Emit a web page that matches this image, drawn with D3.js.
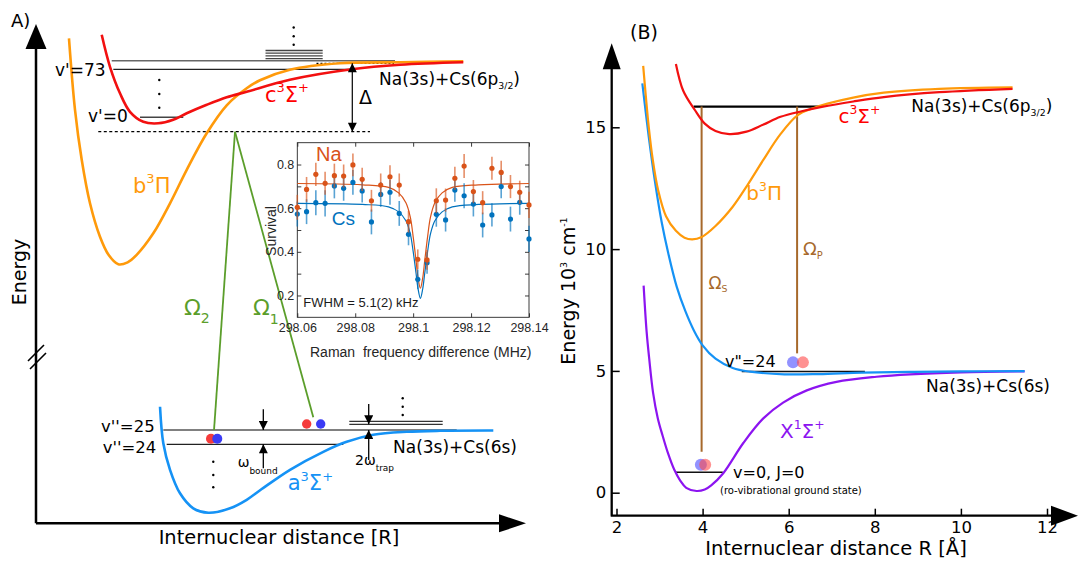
<!DOCTYPE html>
<html>
<head>
<meta charset="utf-8">
<script src="https://cdn.jsdelivr.net/npm/d3@7"></script>
<style>
  html, body { margin: 0; padding: 0; background: #fff; }
  svg { display: block; font-family: "DejaVu Sans", sans-serif; }
  text { white-space: pre; }
  .mat text, text.mat { font-family: "Liberation Sans", Arial, sans-serif; }
</style>
</head>
<body>
<svg id="fig" width="1079" height="561"></svg>
<script>
// ---------- Panel A: schematic potentials, arbitrary units [R, E] ----------
const b3PiA = [[0.673,9.70],[0.796,8.27],[0.933,7.27],[1.102,6.40],[1.306,5.73],[1.48,5.37],[1.68,5.18],[1.87,5.22],[2.055,5.37],[2.394,5.80],[2.735,6.40],[3.076,7.07],[3.484,7.80],[3.892,8.36],[4.30,8.70],[4.571,8.86],[5.18,9.07],[6.20,9.20],[7.43,9.22],[8.72,9.24]];
const c3SigmaA = [[1.341,9.77],[1.51,9.13],[1.714,8.60],[1.918,8.23],[2.19,8.03],[2.496,8.00],[2.80,8.07],[3.076,8.20],[3.484,8.37],[3.892,8.52],[4.30,8.63],[5.18,8.87],[6.443,9.08],[7.43,9.17],[8.72,9.22]];
const a3SigmaA = [[2.531,2.33],[2.598,1.60],[2.735,1.07],[2.939,0.60],[3.21,0.30],[3.516,0.21],[3.96,0.30],[4.30,0.47],[4.60,0.68],[5.184,1.07],[5.863,1.43],[6.341,1.63],[6.884,1.77],[7.565,1.83],[8.245,1.85],[9.333,1.855]];

// level lines [R start, R end, E]
const upperStackA = [[4.684,5.851,9.456],[4.684,5.851,9.402],[4.684,5.851,9.348],[4.684,5.851,9.294]];
const excitedLevelsA = [[1.545,7.327,9.252],[1.578,6.443,9.08],[2.122,3.006,8.12]]; // edge, v'=73, v'=0
const groundLevelsA = [[2.598,8.586,1.866],[2.667,6.271,1.58]];                    // v''=25, v''=24
const trapLevelsA = [[6.394,8.30,2.04],[6.394,8.30,1.98]];
const virtualLevelA = [1.271,6.816,7.832];
const thresholdA = [5.724,7.306,9.2];
const ellipsisA = [[5.259,9.916],[5.259,9.742],[5.259,9.57],[2.516,8.866],[2.516,8.586],[2.516,8.312],[7.484,2.5],[7.484,2.332],[7.484,2.166],[3.618,1.232],[3.618,0.966],[3.618,0.72]];
const ramanBeamsA = [[[4.061,7.832],[3.633,1.866]],[[4.061,7.832],[5.659,2.12]]];
const atomPairsA = [[3.571,3.70,1.692],[5.524,5.81,1.986]];   // Na R, Cs R, E
// arrows [R, E from, E to]
const detuningA = [6.455,9.2,7.832];
const spacingArrowsA = [[4.639,2.28,1.866],[4.639,1.10,1.58],[6.79,2.386,1.98],[6.79,1.266,1.866]];

// ---------- Panel B: NaCs potentials, R in Å, E in 10^3 cm^-1 ----------
const c3SigmaB = [[3.38,17.6],[3.55,16.5],[3.82,15.71],[4.05,15.15],[4.3,14.85],[4.62,14.72],[5.02,14.82],[5.4,15.1],[5.81,15.43],[6.3,15.66],[6.77,15.84],[7.5,16.06],[8.21,16.24],[9.5,16.44],[11.2,16.58]];
const b3PiB = [[2.62,17.52],[2.68,16.3],[2.75,15.0],[2.84,13.7],[2.97,12.4],[3.15,11.35],[3.38,10.75],[3.58,10.47],[3.76,10.4],[3.98,10.5],[4.3,10.95],[4.7,11.74],[5.05,12.65],[5.41,13.66],[5.8,14.7],[6.21,15.5],[6.55,15.77],[6.9,15.97],[7.5,16.22],[8.21,16.42],[9.5,16.58],[11.2,16.64]];
const a3SigmaB = [[2.60,16.8],[2.75,14.6],[2.90,12.7],[3.05,11.1],[3.20,9.85],[3.40,8.45],[3.60,7.45],[3.80,6.65],[4.00,6.05],[4.30,5.5],[4.70,5.12],[5.10,4.97],[5.90,4.86],[6.70,4.87],[7.70,4.93],[8.80,4.96],[10.0,4.98],[11.48,4.99]];
const X1SigmaB = [[2.63,8.5],[2.70,6.6],[2.76,5.5],[2.85,4.1],[2.96,3.05],[3.07,2.35],[3.2,1.6],[3.34,0.95],[3.48,0.5],[3.62,0.2],[3.86,0.07],[4.05,0.13],[4.2,0.3],[4.48,0.8],[4.95,2.05],[5.41,3.05],[5.87,3.7],[6.42,4.2],[7.11,4.55],[8.04,4.76],[8.82,4.86],[10.0,4.94],[11.48,4.98]];
const pumpLevelB = [3.79,6.77,15.85];
const v24LevelB = [4.91,7.77,4.98];
const groundLevelB = [3.36,4.47,0.84];
const ramanLinesB = [[3.977,15.85,1.68],[6.195,15.85,5.72]];   // Ω_S, Ω_P
const atomPairsB = [[6.10,6.33,5.35],[3.96,4.06,1.15]];
const xTicksB = [2,4,6,8,10,12];
const yTicksB = [0,5,10,15];

// ---------- Inset: Raman spectroscopy ----------
const ramanFreq = [298.0600,298.0632,298.0664,298.0696,298.0728,298.0760,298.0792,298.0824,298.0856,298.0888,298.0920,298.0952,298.0984,298.1016,298.1048,298.1080,298.1112,298.1144,298.1176,298.1208,298.1240,298.1272,298.1304,298.1336,298.1368,298.1400];
const naSurvival = [0.604,0.686,0.755,0.714,0.749,0.747,0.798,0.732,0.634,0.706,0.744,0.706,0.538,0.366,0.363,0.634,0.637,0.737,0.793,0.676,0.625,0.783,0.764,0.699,0.673,0.615];
const naError = [0.057,0.057,0.053,0.053,0.055,0.053,0.052,0.053,0.05,0.053,0.053,0.053,0.05,0.045,0.045,0.057,0.053,0.053,0.055,0.053,0.053,0.053,0.053,0.053,0.053,0.06];
const csSurvival = [0.573,0.584,0.625,0.622,0.702,0.691,0.718,0.679,0.537,0.663,0.673,0.576,0.480,0.274,0.350,0.572,0.546,0.683,0.657,0.619,0.523,0.569,0.699,0.550,0.627,0.459];
const csError = [0.057,0.057,0.057,0.06,0.057,0.057,0.057,0.053,0.057,0.057,0.057,0.057,0.05,0.045,0.05,0.057,0.053,0.053,0.057,0.057,0.057,0.053,0.053,0.057,0.057,0.06];
const fitFreq = [298.06,298.0825,298.0915,298.095,298.0975,298.099,298.100,298.101,298.1017,298.1025,298.1033,298.104,298.105,298.106,298.1075,298.110,298.1135,298.1225,298.14];
const naFit = [0.713,0.707,0.695,0.670,0.625,0.560,0.470,0.360,0.280,0.233,0.280,0.360,0.470,0.560,0.625,0.670,0.695,0.707,0.713];
const csFit = [0.622,0.617,0.606,0.583,0.542,0.483,0.402,0.302,0.230,0.187,0.230,0.302,0.402,0.483,0.542,0.583,0.606,0.617,0.622];
const insetXTicks = [298.06,298.08,298.1,298.12,298.14];
const insetYTicks = [0.2,0.3,0.4,0.5,0.6,0.7,0.8];
const insetYLabels = [0.2,0.4,0.6,0.8];

// ---------- colours ----------
const RED = "#f21010", ORANGE = "#ff9a0a", BLUE = "#1592f5", PURPLE = "#8c14f0",
      GREEN = "#5b9e2b", BROWN = "#a7692b", NA_C = "#d95319", CS_C = "#0072bd";

const svg = d3.select("#fig");
const defs = svg.append("defs");
defs.append("marker").attr("id", "head").attr("viewBox", "0 0 10 10")
  .attr("refX", 10).attr("refY", 5).attr("markerWidth", 10).attr("markerHeight", 9)
  .attr("markerUnits", "userSpaceOnUse").attr("orient", "auto-start-reverse")
  .append("path").attr("d", "M0,0L10,5L0,10z").attr("fill", "#000");

function rich(g, x, y, parts, size, color) {
  const t = g.append("text").attr("x", x).attr("y", y).attr("font-size", size).attr("fill", color);
  let level = 0;
  for (const [str, shift = 0, scale = 1] of parts) {
    t.append("tspan").attr("dy", ((shift - level) * size).toFixed(2))
      .attr("font-size", (size * scale).toFixed(2)).text(str);
    level = shift;
  }
  return t;
}
const hline = (g, xs, ys, d, stroke, w, dash) => {
  const l = g.append("line").attr("x1", xs(d[0])).attr("x2", xs(d[1]))
    .attr("y1", ys(d[2])).attr("y2", ys(d[2])).attr("stroke", stroke).attr("stroke-width", w);
  if (dash) l.attr("stroke-dasharray", dash);
  return l;
};

// =================== Panel A ===================
const xA = d3.scaleLinear().domain([0, 10]).range([36, 526]);
const yA = d3.scaleLinear().domain([0, 10]).range([523.3, 23.3]);
const lineA = d3.line().x(d => xA(d[0])).y(d => yA(d[1])).curve(d3.curveCatmullRom.alpha(0.5));
const gA = svg.append("g");

// frame with arrows and axis break
gA.append("path").attr("d", `M${xA(0)},${yA(0)}V47 M${xA(0)},${yA(0)}H502`)
  .attr("stroke", "#000").attr("stroke-width", 2.5).attr("fill", "none");
gA.append("path").attr("d", `M${xA(0)},24L${xA(0)-10.5},49L${xA(0)+10.5},49Z`).attr("fill", "#000");
gA.append("path").attr("d", `M526,${yA(0)}L499,${yA(0)-9}L499,${yA(0)+9}Z`).attr("fill", "#000");
gA.append("path").attr("d", "M28,361L44,345M30,369L46,353").attr("stroke", "#000").attr("stroke-width", 1.6);

// levels
upperStackA.forEach(d => hline(gA, xA, yA, d, "#444", 1.3));
excitedLevelsA.forEach((d, i) => hline(gA, xA, yA, d, ["#666", "#222", "#444"][i], [1.4, 1.2, 1.6][i]));
groundLevelsA.forEach((d, i) => hline(gA, xA, yA, d, ["#808080", "#222"][i], [2, 1.2][i]));
trapLevelsA.forEach(d => hline(gA, xA, yA, d, "#333", 1.2));
hline(gA, xA, yA, virtualLevelA, "#000", 1.2, "3,2.5");
hline(gA, xA, yA, thresholdA, "#000", 1.2, "2,2");
gA.selectAll("circle.ell").data(ellipsisA).join("circle").attr("class", "ell")
  .attr("cx", d => xA(d[0])).attr("cy", d => yA(d[1])).attr("r", 1.2).attr("fill", "#000");

// potentials
[[b3PiA, ORANGE], [c3SigmaA, RED], [a3SigmaA, BLUE]].forEach(([d, c]) =>
  gA.append("path").attr("d", lineA(d)).attr("fill", "none").attr("stroke", c).attr("stroke-width", 2.6));

// arrows
gA.append("line").attr("x1", xA(detuningA[0])).attr("x2", xA(detuningA[0]))
  .attr("y1", yA(detuningA[1])).attr("y2", yA(detuningA[2])).attr("stroke", "#000").attr("stroke-width", 1.2)
  .attr("marker-start", "url(#head)").attr("marker-end", "url(#head)");
spacingArrowsA.forEach(d => gA.append("line").attr("x1", xA(d[0])).attr("x2", xA(d[0]))
  .attr("y1", yA(d[1])).attr("y2", yA(d[2])).attr("stroke", "#000").attr("stroke-width", 1.3)
  .attr("marker-end", "url(#head)"));

// Raman beams
ramanBeamsA.forEach(b => gA.append("line").attr("x1", xA(b[0][0])).attr("y1", yA(b[0][1]))
  .attr("x2", xA(b[1][0])).attr("y2", yA(b[1][1])).attr("stroke", GREEN).attr("stroke-width", 1.8));

// labels, panel A
rich(gA, 11, 27, [["A)"]], 18, "#000");
rich(gA, 0, 0, [["Energy"]], 19, "#000").attr("text-anchor", "middle").attr("transform", "translate(26,272) rotate(-90)");
rich(gA, 279, 544, [["Internuclear distance [R]"]], 19.4, "#000").attr("text-anchor", "middle");
rich(gA, 55, 75.7, [["v'=73"]], 17, "#000");
rich(gA, 88, 122.3, [["v'=0"]], 17, "#000");
rich(gA, 101, 431.7, [["v''=25"]], 16.5, "#000");
rich(gA, 102.7, 453.3, [["v''=24"]], 16.5, "#000");
rich(gA, 265, 101.7, [["c"], ["3", -0.45, 0.62], ["Σ"], ["+", -0.45, 0.62]], 21, "#ff0000");
rich(gA, 133, 192.7, [["b"], ["3", -0.45, 0.62], ["Π"]], 21, ORANGE);
rich(gA, 287.7, 490, [["a"], ["3", -0.45, 0.62], ["Σ"], ["+", -0.45, 0.62]], 21, BLUE);
rich(gA, 359, 104, [["Δ"]], 19, "#000");
rich(gA, 379, 85, [["Na(3s)+Cs(6p"], ["3/2", 0.25, 0.55], [")"]], 17, "#000");
rich(gA, 393, 452.7, [["Na(3s)+Cs(6s)"]], 17, "#000");
rich(gA, 237.7, 467.3, [["ω"], ["bound", 0.5, 0.64]], 14, "#000");
rich(gA, 355, 465, [["2ω"], ["trap", 0.42, 0.64]], 14, "#000");
rich(gA, 184, 315, [["Ω"], ["2", 0.38, 0.64]], 22, GREEN);
rich(gA, 253, 315, [["Ω"], ["1", 0.42, 0.64]], 22, GREEN);

// ---------- Inset ----------
const xI = d3.scaleLinear().domain([298.06, 298.14]).range([297.3, 529]);
const yI = d3.scaleLinear().domain([0.1, 0.9]).range([317.3, 142.7]);
const gI = svg.append("g").attr("class", "mat");
gI.append("rect").attr("x", xI(298.06)).attr("y", yI(0.9)).attr("width", xI(298.14) - xI(298.06))
  .attr("height", yI(0.1) - yI(0.9)).attr("fill", "none").attr("stroke", "#262626").attr("stroke-width", 0.9);
const fmtF = d => String(+d.toFixed(2));
const axB = gI.append("g").attr("transform", `translate(0,${yI(0.1)})`)
  .call(d3.axisBottom(xI).tickValues(insetXTicks).tickSize(-4).tickPadding(6).tickFormat(fmtF));
const axT = gI.append("g").attr("transform", `translate(0,${yI(0.9)})`)
  .call(d3.axisTop(xI).tickValues(insetXTicks).tickSize(-4).tickFormat(""));
const axL = gI.append("g").attr("transform", `translate(${xI(298.06)},0)`)
  .call(d3.axisLeft(yI).tickValues(insetYTicks).tickSize(-4).tickPadding(3)
    .tickFormat(d => insetYLabels.some(v => Math.abs(v - d) < 1e-9) ? d.toFixed(1) : ""));
const axR = gI.append("g").attr("transform", `translate(${xI(298.14)},0)`)
  .call(d3.axisRight(yI).tickValues(insetYTicks).tickSize(-4).tickFormat(""));
[axB, axT, axL, axR].forEach(a => {
  a.select(".domain").remove();
  a.selectAll("line").attr("stroke", "#262626").attr("stroke-width", 0.9);
  a.selectAll("text").attr("font-size", 12.5).attr("fill", "#262626").attr("font-family", "Liberation Sans, Arial, sans-serif");
});
const fitLine = d3.line().x(d => xI(d[0])).y(d => yI(d[1])).curve(d3.curveCatmullRom.alpha(0.5));
gI.append("path").attr("d", fitLine(fitFreq.map((f, i) => [f, csFit[i]]))).attr("fill", "none").attr("stroke", CS_C).attr("stroke-width", 1.2);
gI.append("path").attr("d", fitLine(fitFreq.map((f, i) => [f, naFit[i]]))).attr("fill", "none").attr("stroke", NA_C).attr("stroke-width", 1.2);
[[csSurvival, csError, CS_C], [naSurvival, naError, NA_C]].forEach(([vals, errs, c]) => {
  const pts = ramanFreq.map((f, i) => ({ f, v: vals[i], e: errs[i] }));
  gI.append("g").selectAll("line").data(pts).join("line")
    .attr("x1", d => xI(d.f)).attr("x2", d => xI(d.f))
    .attr("y1", d => yI(d.v - d.e)).attr("y2", d => yI(d.v + d.e))
    .attr("stroke", c).attr("stroke-width", 1.6).attr("stroke-opacity", 0.65);
  gI.append("g").selectAll("circle").data(pts).join("circle")
    .attr("cx", d => xI(d.f)).attr("cy", d => yI(d.v)).attr("r", 2.6).attr("fill", c);
});
gI.append("text").attr("x", 316).attr("y", 160.7).attr("font-size", 20).attr("fill", NA_C).text("Na");
gI.append("text").attr("x", 331.7).attr("y", 225).attr("font-size", 19).attr("fill", CS_C).text("Cs");
gI.append("text").attr("x", 303.3).attr("y", 306.7).attr("font-size", 13).attr("fill", "#1a1a1a").text("FWHM = 5.1(2) kHz");
gI.append("text").attr("transform", "translate(276,231) rotate(-90)").attr("text-anchor", "middle")
  .attr("font-size", 14).attr("fill", "#262626").text("Survival");
gI.append("text").attr("x", 310).attr("y", 357).attr("font-size", 14).attr("fill", "#262626").text("Raman  frequency difference (MHz)");

// atoms on top of beams
atomPairsA.forEach(([rn, rc, e], i) => {
  const r = i === 0 ? 5 : 4.7;
  gA.append("circle").attr("cx", xA(rn)).attr("cy", yA(e)).attr("r", r).attr("fill", "#f53b3b");
  gA.append("circle").attr("cx", xA(rc)).attr("cy", yA(e)).attr("r", r).attr("fill", "#3b3bf5");
});

// =================== Panel B ===================
const xB = d3.scaleLinear().domain([2, 12]).range([616.5, 1047]);
const yB = d3.scaleLinear().domain([0, 15]).range([492.7, 127.3]);
const lineB = d3.line().x(d => xB(d[0])).y(d => yB(d[1])).curve(d3.curveCatmullRom.alpha(0.5));
const gB = svg.append("g");
const ox = 611.7, oy = 515.7;

const ay = gB.append("g").attr("transform", `translate(${ox},0)`)
  .call(d3.axisLeft(yB).tickValues(yTicksB).tickSize(-8).tickPadding(5.5));
const axx = gB.append("g").attr("transform", `translate(0,${oy})`)
  .call(d3.axisBottom(xB).tickValues(xTicksB).tickSize(-7).tickPadding(5.5));
[ay, axx].forEach(a => {
  a.select(".domain").remove();
  a.selectAll("line").attr("stroke", "#000").attr("stroke-width", 1.5);
  a.selectAll("text").attr("font-size", 16.5).attr("fill", "#000").attr("font-family", "DejaVu Sans, sans-serif");
});
gB.append("path").attr("d", `M${ox},${oy}V68 M${ox - 1},${oy}H1053`).attr("stroke", "#000").attr("stroke-width", 2.3).attr("fill", "none");
gB.append("path").attr("d", `M${ox},43.3L${ox - 9},69.3L${ox + 9},69.3Z`).attr("fill", "#000");
gB.append("path").attr("d", `M1078,${oy}L1051,${oy - 10}L1051,${oy + 10}Z`).attr("fill", "#000");

// levels and transitions
hline(gB, xB, yB, pumpLevelB, "#000", 2.2);
hline(gB, xB, yB, v24LevelB, "#111", 1.5);
hline(gB, xB, yB, groundLevelB, "#111", 1.5);
ramanLinesB.forEach(d => gB.append("line").attr("x1", xB(d[0])).attr("x2", xB(d[0]))
  .attr("y1", yB(d[1])).attr("y2", yB(d[2])).attr("stroke", BROWN).attr("stroke-width", 2));

// potentials
[[X1SigmaB, PURPLE], [a3SigmaB, BLUE], [b3PiB, ORANGE], [c3SigmaB, RED]].forEach(([d, c]) =>
  gB.append("path").attr("d", lineB(d)).attr("fill", "none").attr("stroke", c).attr("stroke-width", 2.2));

// molecule constituents
atomPairsB.forEach(([rc, rn, e]) => {
  gB.append("circle").attr("cx", xB(rc)).attr("cy", yB(e)).attr("r", 6).attr("fill", "#4a4aff").attr("fill-opacity", 0.6);
  gB.append("circle").attr("cx", xB(rn)).attr("cy", yB(e)).attr("r", 6).attr("fill", "#ff4a4a").attr("fill-opacity", 0.6);
});

// labels, panel B
rich(gB, 630, 39, [["(B)"]], 19, "#000");
rich(gB, 0, 0, [["Energy 10"], ["3", -0.42, 0.5], [" cm"], ["-1", -0.42, 0.5]], 19, "#000")
  .attr("text-anchor", "middle").attr("transform", "translate(575,291) rotate(-90)");
rich(gB, 836, 555, [["Internuclear distance R [Å]"]], 19.5, "#000").attr("text-anchor", "middle");
rich(gB, 838.4, 123.3, [["c"], ["3", -0.45, 0.62], ["Σ"], ["+", -0.45, 0.62]], 20, "#ff0000");
rich(gB, 911.3, 111.7, [["Na(3s)+Cs(6p"], ["3/2", 0.25, 0.55], [")"]], 17, "#000");
rich(gB, 746.3, 200, [["b"], ["3", -0.45, 0.62], ["Π"]], 20, ORANGE);
rich(gB, 803, 255, [["Ω"], ["P", 0.2, 0.55]], 18, BROWN);
rich(gB, 708.4, 289, [["Ω"], ["S", 0.2, 0.55]], 17, BROWN);
rich(gB, 725, 366.7, [["v\"=24"]], 16, "#000");
rich(gB, 926, 391.7, [["Na(3s)+Cs(6s)"]], 17, "#000");
rich(gB, 780, 438.3, [["X"], ["1", -0.45, 0.62], ["Σ"], ["+", -0.45, 0.62]], 20, PURPLE);
rich(gB, 733, 478, [["v=0, J=0"]], 16, "#000");
rich(gB, 720, 494, [["(ro-vibrational ground state)"]], 10, "#000");
</script>
</body>
</html>
